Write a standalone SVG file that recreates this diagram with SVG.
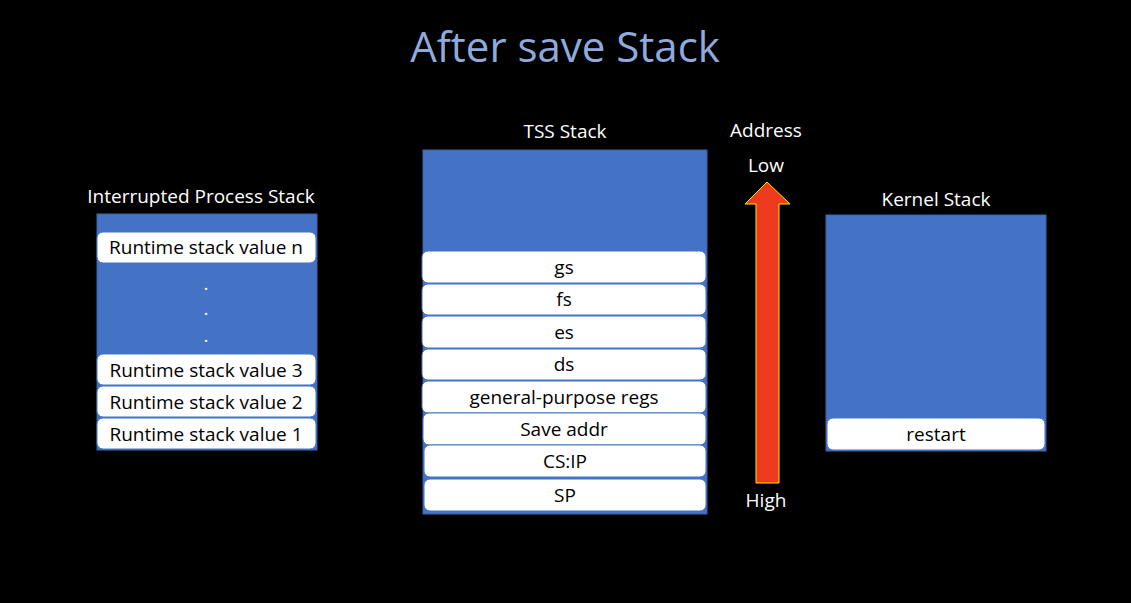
<svg xmlns="http://www.w3.org/2000/svg" width="1131" height="603" viewBox="0 0 1131 603">
<style>
text{font-family:"Open Sans","Liberation Sans",sans-serif;text-anchor:middle}
.lbl{fill:#fff;font-size:19px}
.t{fill:#000;font-size:19px}
.stack{fill:#4472C4;stroke:#3A64AE;stroke-width:1}
.cell{fill:#fff;stroke:#4472C4;stroke-width:1}
</style>
<rect width="1131" height="603" fill="#000"/>
<text x="565" y="62" style="font-size:42px;fill:#8FAADC">After save Stack</text>

<g id="interrupted">
<text class="lbl" x="201" y="203">Interrupted Process Stack</text>
<rect class="stack" x="97" y="214" width="220" height="236"/>
<rect class="cell" x="97" y="232" width="219" height="31" rx="6"/>
<text class="t" x="206" y="254">Runtime stack value n</text>
<text class="lbl" x="206" y="290">.</text>
<text class="lbl" x="206" y="315">.</text>
<text class="lbl" x="206" y="342">.</text>
<rect class="cell" x="97" y="354" width="219" height="31" rx="6"/>
<text class="t" x="206" y="377">Runtime stack value 3</text>
<rect class="cell" x="97" y="386" width="219" height="31" rx="6"/>
<text class="t" x="206" y="409">Runtime stack value 2</text>
<rect class="cell" x="97" y="418" width="219" height="31" rx="6"/>
<text class="t" x="206" y="441">Runtime stack value 1</text>
</g>

<g id="tss">
<text class="lbl" x="565" y="138">TSS Stack</text>
<rect class="stack" x="423" y="150" width="284" height="364"/>
<rect class="cell" x="422" y="251" width="284" height="32" rx="6"/>
<text class="t" x="564" y="274">gs</text>
<rect class="cell" x="422" y="284" width="284" height="31" rx="6"/>
<text class="t" x="564" y="306">fs</text>
<rect class="cell" x="422" y="316" width="284" height="32" rx="6"/>
<text class="t" x="564" y="339">es</text>
<rect class="cell" x="422" y="349" width="284" height="31" rx="6"/>
<text class="t" x="564" y="371">ds</text>
<rect class="cell" x="422" y="381" width="284" height="32" rx="6"/>
<text class="t" x="564" y="404">general-purpose regs</text>
<rect class="cell" x="423" y="413" width="283" height="32" rx="6"/>
<text class="t" x="564" y="436">Save addr</text>
<rect class="cell" x="424" y="445" width="282" height="32" rx="6"/>
<text class="t" x="565" y="468">CS:IP</text>
<rect class="cell" x="424" y="479" width="282" height="32" rx="6"/>
<text class="t" x="565" y="502">SP</text>
</g>

<g id="address">
<text class="lbl" x="766" y="137">Address</text>
<text class="lbl" x="766" y="172">Low</text>
<polygon points="767,182 790,204 779,204 779,483 756,483 756,204 745,204" fill="#EE3A1E" stroke="#FFE600" stroke-width="1"/>
<text class="lbl" x="766" y="507">High</text>
</g>

<g id="kernel">
<text class="lbl" x="936" y="206">Kernel Stack</text>
<rect class="stack" x="826" y="215" width="220" height="236"/>
<rect class="cell" x="827" y="418" width="218" height="32" rx="6"/>
<text class="t" x="936" y="441">restart</text>
</g>

<g id="connectors"></g>
</svg>
